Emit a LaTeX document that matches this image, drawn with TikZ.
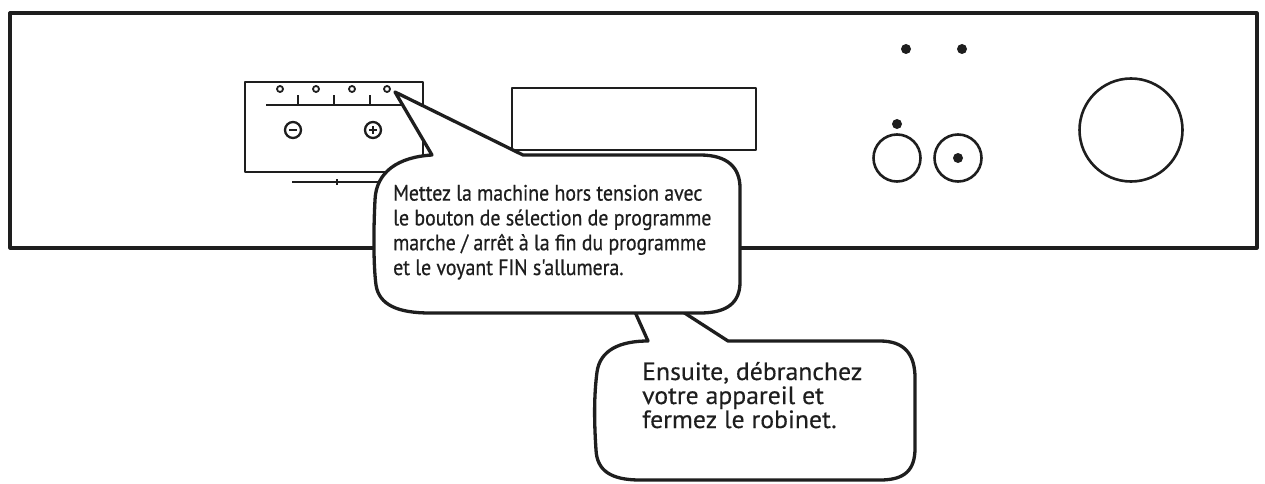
\documentclass[tikz,border=0pt]{standalone}
\usepackage{fontspec}
\setmainfont{PT Sans}
\newfontfamily\condfont[FakeStretch=0.89,FakeBold=0.6]{PT Sans}
\newfontfamily\widefont[FakeStretch=1.03,FakeBold=0.3]{PT Sans}
\definecolor{ink}{HTML}{1E1E1E}
\begin{document}
\begin{tikzpicture}[x=1pt,y=-1pt,line join=round,
  panel/.style={draw=ink,line width=3.2pt},
  thinline/.style={draw=ink,line width=2.3pt},
  knob/.style={draw=ink,line width=2.6pt},
  dot/.style={fill=ink},
  bubble/.style={draw=ink,fill=white,line width=3.3pt},
  btext/.style={anchor=base west,align=left,inner sep=0pt,text=ink}]
\useasboundingbox (0,0) rectangle (1265,484);
% outer panel
\draw[panel] (10,13) rectangle (1257,248);
% button box
\draw[thinline] (245,82) rectangle (423,172);
\foreach \x in {280,316,352,387} \draw[draw=ink,line width=1.8pt] (\x,89) circle[radius=3pt];
\draw[thinline] (266,105) -- (410,105);
\foreach \x in {298,334,370} \draw[thinline] (\x,105) -- (\x,95);
\draw[thinline] (293,130) circle[radius=8pt];
\draw[draw=ink,line width=2.4pt] (289,130) -- (297,130);
\draw[thinline] (373,130) circle[radius=8pt];
\draw[draw=ink,line width=2.4pt] (369,130) -- (377,130) (373,126) -- (373,134);
\draw[thinline] (292,182) -- (380,182);
\draw[draw=ink,line width=2pt] (337,179) -- (337,185);
% display
\draw[thinline] (512,88) rectangle (756,150);
% indicators
\fill[dot] (906,49) circle[radius=5pt];
\fill[dot] (962,49) circle[radius=5pt];
\fill[dot] (897,124) circle[radius=5pt];
\draw[knob] (897,158) circle[radius=23.5pt];
\draw[knob] (958,158) circle[radius=23.5pt];
\fill[dot] (958,158) circle[radius=5pt];
\draw[knob] (1131,130) circle[radius=51.5pt];
% bubble 2
\filldraw[bubble] (683,312) -- (728,341) -- (880,341)
  .. controls (905,341) and (915,355) .. (915,378) -- (915,448)
  .. controls (915,470) and (905,480) .. (880,480) -- (640,480)
  .. controls (610,480) and (597,470) .. (596,450)
  .. controls (594,420) and (594,395) .. (597,372)
  .. controls (600,350) and (620,341) .. (648,341) -- (635,312);
% bubble 1
\filldraw[bubble] (523,155) -- (395,92) -- (432,155)
  .. controls (398,157) and (376,172) .. (375,200)
  .. controls (373,240) and (374,270) .. (376,285)
  .. controls (379,305) and (398,313) .. (430,313)
  -- (700,313)
  .. controls (728,313) and (740,302) .. (740,282)
  -- (740,188)
  .. controls (740,168) and (728,155) .. (700,155)
  -- cycle;
\node[btext,font=\condfont\fontsize{22.3}{24.8}\selectfont] (t1) at (393,275)
  {Mettez la machine hors tension avec\\le bouton de sélection de programme\\marche / arrêt à la fin du programme\\et le voyant FIN s'allumera.};
\node[btext,font=\widefont\fontsize{25}{24}\selectfont] (t2) at (642,428)
  {Ensuite, débranchez\\votre appareil et\\fermez le robinet.};
\end{tikzpicture}
\end{document}
